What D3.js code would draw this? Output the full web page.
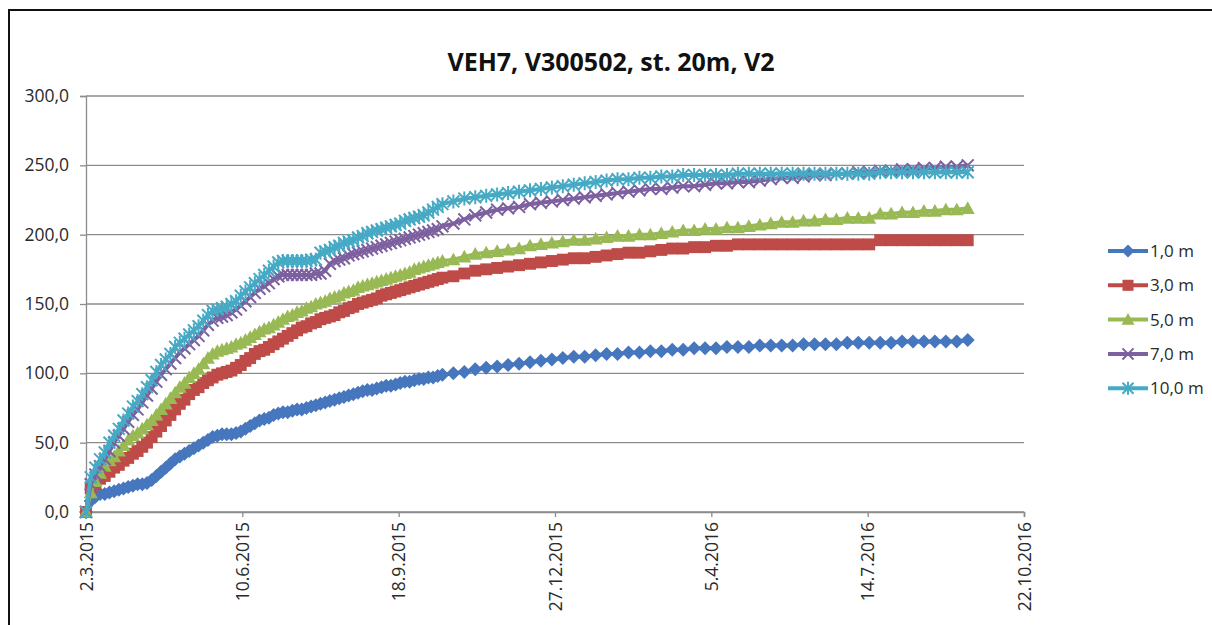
<!DOCTYPE html>
<html><head><meta charset="utf-8">
<script src="https://cdn.jsdelivr.net/npm/d3@7"></script>
<style>body{margin:0;background:#fff}svg{display:block}</style>
</head><body>
<svg id="c" width="1212" height="625"></svg>
<script>
// Day offsets from 2.3.2015
const days = [
 0,3,6,9,12,15,18,21,24,27,
 30,33,36,39,42,45,48,51,54,57,
 60,63,66,69,72,75,78,81,84,87,
 90,93,96,99,102,105,108,111,114,117,
 120,123,126,129,132,135,138,141,144,147,
 150,153,156,159,162,165,168,171,174,177,
 180,183,186,189,192,195,198,201,204,207,
 210,213,216,219,222,225,228,
 235,242,249,256,263,270,277,284,291,298,
 305,312,319,326,333,340,347,354,361,368,
 375,382,389,396,403,410,417,424,431,438,
 445,452,459,466,473,480,487,494,501,508,
 515,522,529,536,543,550,557,564];

const s1 = [ // 1,0 m
 0,8,11,13,13,14,15,16,17,18,
 19,20,20,21,23,26,29,32,35,38,
 40,42,44,46,48,50,52,54,55,56,
 56,56,57,58,60,62,64,66,67,68,
 70,71,72,72,73,74,74,75,76,77,
 78,79,80,81,82,83,84,85,86,87,
 88,88,89,90,91,91,92,93,94,94,
 95,96,96,97,97,98,99,
 100,101,103,104,105,106,107,108,109,110,
 111,112,112,113,114,114,115,115,116,116,
 117,117,118,118,118,119,119,119,120,120,
 120,120,121,121,121,121,122,122,122,122,
 122,123,123,123,123,123,123,124];
const s3 = [ // 3,0 m
 0,17,20,24,26,29,32,34,37,39,
 42,44,47,50,54,58,62,66,70,74,
 78,81,85,88,90,93,95,97,99,100,
 101,102,104,106,109,111,114,116,117,119,
 121,123,125,127,129,131,133,134,136,137,
 139,140,141,142,144,145,147,148,150,151,
 152,153,154,156,157,158,159,160,161,162,
 163,164,165,166,167,168,169,
 170,172,174,175,176,177,178,179,180,181,
 182,183,183,184,185,186,187,187,188,189,
 190,190,191,191,192,192,193,193,193,193,
 193,193,193,193,193,193,193,193,193,196,
 196,196,196,196,196,196,196,196];
const s5 = [ // 5,0 m
 0,14,22,28,33,37,40,44,48,52,
 55,57,60,63,66,70,74,78,82,86,
 90,93,97,100,103,107,111,114,116,117,
 118,119,121,122,124,126,128,130,132,133,
 135,137,139,141,142,144,145,147,148,150,
 151,152,154,155,156,158,159,160,162,163,
 164,165,166,167,168,169,170,171,172,173,
 175,176,177,178,179,180,181,
 182,184,186,187,188,189,190,192,193,194,
 195,196,196,197,198,199,199,200,200,201,
 202,203,203,204,204,205,205,206,207,208,
 209,209,210,210,211,211,212,212,212,215,
 215,216,216,217,217,218,218,219];
const s7 = [ // 7,0 m
 0,20,27,33,38,44,50,55,60,65,
 70,74,79,84,89,94,99,103,107,111,
 115,118,121,124,127,131,135,138,140,141,
 142,144,146,149,152,155,158,161,163,165,
 168,170,171,171,171,171,171,171,171,172,
 172,174,179,181,182,183,185,186,187,188,
 189,190,191,192,193,194,195,196,197,198,
 199,200,201,202,203,204,206,
 208,211,214,216,218,219,220,222,223,224,
 225,226,227,228,229,230,231,232,233,233,
 234,235,235,236,237,237,238,238,239,240,
 241,241,242,243,243,244,244,245,245,246,
 246,247,247,248,248,249,249,250];
const s10 = [ // 10,0 m
 0,25,32,38,43,50,55,60,66,71,
 76,80,85,90,95,101,106,110,114,119,
 122,125,128,131,134,138,142,145,146,147,
 148,150,152,156,159,162,165,168,171,174,
 177,180,181,181,181,181,181,181,182,182,
 187,188,189,191,192,194,195,196,198,199,
 201,202,203,204,205,206,207,208,210,211,
 212,213,214,216,218,220,222,
 224,226,227,228,229,230,231,232,233,234,
 235,236,237,238,239,240,240,241,241,242,
 242,243,243,243,243,243,244,244,244,244,
 244,244,244,244,244,244,244,244,244,245,
 245,245,245,245,245,245,245,245];

const seriesNames = ["1,0 m","3,0 m","5,0 m","7,0 m","10,0 m"];
const seriesValues = [s1,s3,s5,s7,s10];
const colors = ["#4677BE","#BE4B48","#98B954","#7D60A0","#46AAC5"];
const markerTypes = ["diamond","square","triangle","x","star"];
const yTicks = [0,50,100,150,200,250,300];
const xTickDays = [0,100,200,300,400,500,600];
const title = "VEH7, V300502, st. 20m, V2";

const base = Date.UTC(2015,2,2);
const toDate = d => d3.utcDay.offset(new Date(base), d);

const svg = d3.select("#c");
const FONT = "'Open Sans', sans-serif";

// outer frame
svg.append("rect").attr("x",9).attr("y",10).attr("width",1220).attr("height",640)
  .attr("fill","none").attr("stroke","#111").attr("stroke-width",2);

const x = d3.scaleUtc().domain([toDate(0), toDate(600)]).range([86,1024]);
const y = d3.scaleLinear().domain([0,300]).range([512,96]);

// gridlines
svg.append("g").selectAll("line").data(yTicks).join("line")
  .attr("x1",86).attr("x2",1024).attr("y1",d=>y(d)).attr("y2",d=>y(d))
  .attr("stroke","#8c8c8c").attr("stroke-width",1.3);

// y axis
const ya = svg.append("g").attr("transform","translate(86,0)")
  .call(d3.axisLeft(y).tickValues(yTicks).tickSize(6).tickPadding(11)
    .tickFormat(d=>d3.format(".1f")(d).replace(".",",")));
ya.select(".domain").attr("stroke","#8c8c8c").attr("stroke-width",1.3);
ya.selectAll(".tick line").attr("stroke","#8c8c8c").attr("stroke-width",1.3);
ya.selectAll("text").attr("font-family",FONT).attr("font-size",17.5).attr("fill","#2a2a2a");

// x axis
const xa = svg.append("g").attr("transform","translate(0,512)")
  .call(d3.axisBottom(x).tickValues(xTickDays.map(toDate)).tickSize(5)
    .tickFormat(d3.utcFormat("%-d.%-m.%Y")));
xa.select(".domain").attr("stroke","#8c8c8c").attr("stroke-width",1.6);
xa.selectAll(".tick line").attr("stroke","#8c8c8c").attr("stroke-width",1.3);
xa.selectAll("text").attr("font-family",FONT).attr("font-size",17.5).attr("fill","#2a2a2a")
  .attr("transform","rotate(-90)").attr("text-anchor","end")
  .attr("x",-10).attr("y",0).attr("dy","0.35em");

// markers
function marker(g, type, color, s) {
  if (type==="diamond") g.append("path").attr("d",`M0,${-s}L${s},0L0,${s}L${-s},0Z`).attr("fill",color);
  else if (type==="square") g.append("rect").attr("x",-s*0.85).attr("y",-s*0.85).attr("width",s*1.7).attr("height",s*1.7).attr("fill",color);
  else if (type==="triangle") g.append("path").attr("d",`M0,${-s}L${s},${s*0.8}L${-s},${s*0.8}Z`).attr("fill",color);
  else if (type==="x") g.append("path").attr("d",`M${-s*0.85},${-s*0.85}L${s*0.85},${s*0.85}M${-s*0.85},${s*0.85}L${s*0.85},${-s*0.85}`).attr("stroke",color).attr("stroke-width",2).attr("fill","none");
  else if (type==="star") g.append("path").attr("d",`M${-s*0.85},${-s*0.85}L${s*0.85},${s*0.85}M${-s*0.85},${s*0.85}L${s*0.85},${-s*0.85}M0,${-s}L0,${s}`).attr("stroke",color).attr("stroke-width",2).attr("fill","none");
}

const line = d3.line().x(d=>x(toDate(d[0]))).y(d=>y(d[1]));
seriesValues.forEach((vals,i)=>{
  const pts = days.map((d,k)=>[d, vals[k]]);
  const g = svg.append("g");
  g.append("path").datum(pts).attr("d",line).attr("fill","none")
    .attr("stroke",colors[i]).attr("stroke-width",4).attr("stroke-linejoin","round");
  pts.forEach(p=>{
    const mg = g.append("g").attr("transform",`translate(${x(toDate(p[0]))},${y(p[1])})`);
    marker(mg, markerTypes[i], colors[i], 7);
  });
});

// title
svg.append("text").attr("x",611).attr("y",71).attr("text-anchor","middle")
  .attr("font-family",FONT).attr("font-weight","bold").attr("font-size",25)
  .attr("fill","#111").text(title);

// legend
const lg = svg.append("g");
seriesNames.forEach((n,i)=>{
  const yy = 251 + i*34.3;
  const g = lg.append("g").attr("transform",`translate(0,${yy})`);
  g.append("line").attr("x1",1108).attr("x2",1148).attr("stroke",colors[i]).attr("stroke-width",4);
  const mg = g.append("g").attr("transform","translate(1128,0)");
  marker(mg, markerTypes[i], colors[i], 6.5);
  g.append("text").attr("x",1150).attr("y",0).attr("dy","0.35em")
    .attr("font-family",FONT).attr("font-size",17).attr("fill","#2a2a2a").text(n);
});
</script>
</body></html>
